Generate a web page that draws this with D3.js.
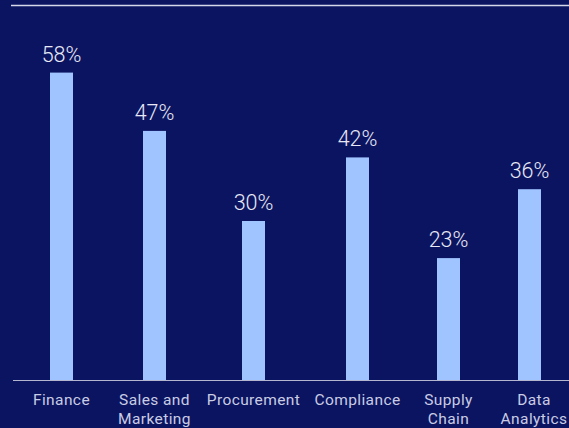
<!DOCTYPE html>
<html>
<head>
<meta charset="utf-8">
<script src="https://cdn.jsdelivr.net/npm/d3@7"></script>
<style>
  html, body { margin: 0; padding: 0; background: #0b1461; }
  svg { display: block; }
</style>
</head>
<body>
<svg id="chart" width="569" height="428"></svg>
<script>
// Share of respondents by function
const categories = ["Finance", "Sales and Marketing", "Procurement", "Compliance", "Supply Chain", "Data Analytics"];
const labelLines = [["Finance"], ["Sales and", "Marketing"], ["Procurement"], ["Compliance"], ["Supply", "Chain"], ["Data", "Analytics"]];
const values = [58, 47, 30, 42, 23, 36];

const W = 569, H = 428;
const svg = d3.select("#chart");

const x = d3.scaleOrdinal()
  .domain(categories)
  .range([61.5, 154.5, 253.5, 357.5, 448.5, 529.5]);
const barW = 23;

const y = d3.scaleLinear().domain([0, 60]).range([380, 62]);

// top rule
svg.append("line")
  .attr("x1", 11).attr("x2", W).attr("y1", 5.5).attr("y2", 5.5)
  .attr("stroke", "#d6d8ea").attr("stroke-width", 1.5);

// bars
svg.selectAll("rect.bar").data(values).join("rect")
  .attr("class", "bar")
  .attr("x", (d, i) => x(categories[i]) - barW / 2)
  .attr("width", barW)
  .attr("y", d => y(d))
  .attr("height", d => y(0) - y(d))
  .attr("fill", "#a0c4ff");

// value labels
svg.selectAll("text.val").data(values).join("text")
  .attr("class", "val")
  .attr("x", (d, i) => x(categories[i]))
  .attr("y", d => y(d) - 11)
  .attr("text-anchor", "middle")
  .attr("font-family", "Roboto, 'Liberation Sans', sans-serif")
  .attr("font-weight", 300)
  .attr("font-size", 21.5)
  .attr("fill", "#e8e9f5")
  .text(d => d + "%");

// baseline axis
const axis = d3.axisBottom(x).tickSize(0).tickFormat("");
const gAxis = svg.append("g").attr("transform", `translate(0,${y(0)})`).call(axis);
gAxis.select(".domain").remove();
svg.append("line")
  .attr("x1", 13).attr("x2", W).attr("y1", y(0) + 0.5).attr("y2", y(0) + 0.5)
  .attr("stroke", "#b4b6d0").attr("stroke-width", 1.2);

// category labels (the last column's text sits a little right of its bar)
const labelShift = c => c === "Data Analytics" ? 4.5 : 0;
const lab = svg.selectAll("text.cat").data(categories).join("text")
  .attr("class", "cat")
  .attr("text-anchor", "middle")
  .attr("font-family", "Roboto, 'Liberation Sans', sans-serif")
  .attr("font-size", 15.5)
  .attr("letter-spacing", 0.4)
  .attr("fill", "#c9cce4");
lab.each(function(c, i) {
  d3.select(this).selectAll("tspan").data(labelLines[i]).join("tspan")
    .attr("x", x(c) + labelShift(c))
    .attr("y", (d, k) => 404.5 + k * 19.5)
    .text(d => d);
});
</script>
</body>
</html>
